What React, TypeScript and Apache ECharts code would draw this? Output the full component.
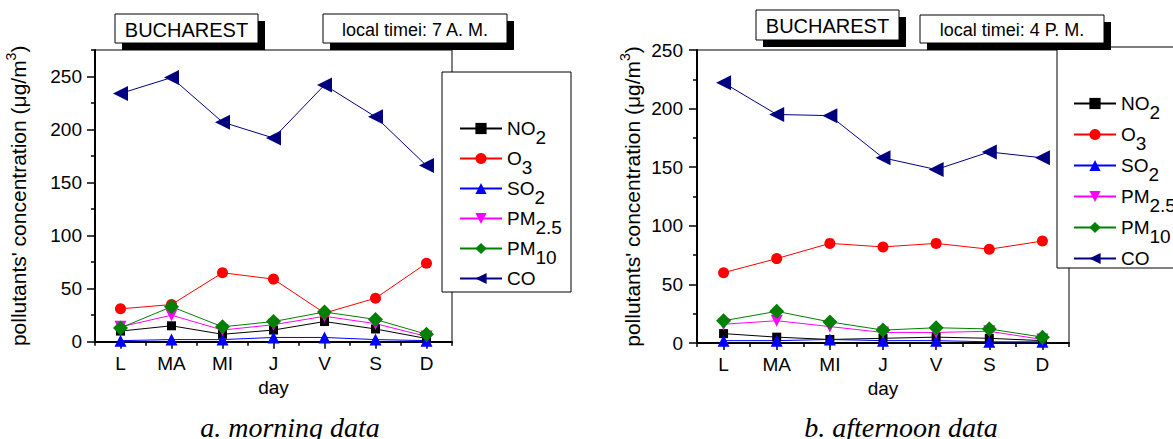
import React, { useEffect, useRef } from 'react';
import * as echarts from 'echarts';

const days = ['L', 'MA', 'MI', 'J', 'V', 'S', 'D'];
const pollutants = ['NO2', 'O3', 'SO2', 'PM2.5', 'PM10', 'CO'];

const morningNO2 = [10, 15, 7, 11, 19, 12, 3];
const morningO3 = [31, 35, 65, 59, 27, 41, 74];
const morningSO2 = [1, 2, 2, 4, 4, 2, 1];
const morningPM25 = [14, 25, 11, 16, 24, 17, 5];
const morningPM10 = [13, 33, 14, 19, 28, 21, 7];
const morningCO = [234, 249, 207, 192, 242, 212, 166];

const afternoonNO2 = [8, 5, 3, 4, 5, 4, 2];
const afternoonO3 = [60, 72, 85, 82, 85, 80, 87];
const afternoonSO2 = [2, 2, 3, 2, 2, 1, 1];
const afternoonPM25 = [16, 19, 14, 9, 9, 10, 3];
const afternoonPM10 = [19, 27, 18, 11, 13, 12, 5];
const afternoonCO = [222, 195, 194, 158, 148, 163, 158];

const morningMajorTicks = [0, 50, 100, 150, 200, 250];
const morningMinorTicks = [25, 75, 125, 175, 225, 275];

const SANS = 'Arial, "Liberation Sans", sans-serif';
const SERIF = '"Times New Roman", "Liberation Serif", serif';

const styles: Record<string, any> = {
  'NO2': { color: '#000000', symbol: 'rect', size: 9, rotate: 0 },
  'O3': { color: '#ff0000', symbol: 'circle', size: 11, rotate: 0 },
  'SO2': { color: '#0000ff', symbol: 'triangle', size: 12, rotate: 0 },
  'PM2.5': { color: '#ff00ff', symbol: 'triangle', size: 12, rotate: 180 },
  'PM10': { color: '#008000', symbol: 'diamond', size: 15, rotate: 0 },
  'CO': { color: '#000080', symbol: 'triangle', size: 15, rotate: 90 },
};

const legendNames: Record<string, string> = {
  'NO2': '{a|NO}{b|2}',
  'O3': '{a|O}{b|3}',
  'SO2': '{a|SO}{b|2}',
  'PM2.5': '{a|PM}{b|2.5}',
  'PM10': '{a|PM}{b|10}',
  'CO': '{a|CO}{b| }',
};

function makeSeries(dataSets: number[][], xIdx: number, yIdx: number) {
  return pollutants.map((p, i) => {
    const s = styles[p];
    return {
      name: p,
      type: 'line',
      xAxisIndex: xIdx,
      yAxisIndex: yIdx,
      data: dataSets[i],
      symbol: s.symbol,
      symbolSize: s.size,
      symbolRotate: s.rotate,
      showAllSymbol: true,
      itemStyle: { color: s.color },
      lineStyle: { color: s.color, width: 1 },
      emphasis: { disabled: true },
    };
  });
}

function titleBox(x: number, y: number, w: number, h: number, text: string, fs: number) {
  return [
    { type: 'rect', z: 20, shape: { x: x + 7, y: y + 7, width: w, height: h }, style: { fill: '#000' } },
    { type: 'rect', z: 21, shape: { x, y, width: w, height: h }, style: { fill: '#fff', stroke: '#000', lineWidth: 1 } },
    {
      type: 'text', z: 22, x: x + w / 2, y: y + h / 2 + 1,
      style: { text, fontSize: fs, fontFamily: SANS, fill: '#000', align: 'center', verticalAlign: 'middle' },
    },
  ];
}

const legendRich = {
  a: { fontSize: 19, lineHeight: 22, fontFamily: SANS, color: '#000' },
  b: { fontSize: 19, lineHeight: 22, padding: [18, 0, 0, 0], fontFamily: SANS, color: '#000' },
};

const yNameStyle = {
  fontSize: 21,
  fontFamily: SANS,
  color: '#000',
  lineHeight: 24,
  rich: {
    t: { fontSize: 21, lineHeight: 24, fontFamily: SANS, color: '#000' },
    sup: { fontSize: 14, lineHeight: 24, padding: [0, 0, 14, 0], fontFamily: SANS, color: '#000' },
  },
};

export default function App() {
  const ref = useRef<HTMLDivElement>(null);
  useEffect(() => {
    if (!ref.current) return;
    const chart = echarts.init(ref.current, undefined, { renderer: 'svg' });
    const axisLine = { show: true, lineStyle: { color: '#000', width: 2 } };
    const axisLabel = { color: '#000', fontSize: 19, fontFamily: SANS };
    const mainX = (gridIndex: number, nameGap: number) => ({
      type: 'category',
      gridIndex,
      data: days,
      boundaryGap: true,
      position: 'bottom',
      axisLine,
      axisTick: { show: true, alignWithLabel: true, length: 7, lineStyle: { color: '#000', width: 1.5 } },
      axisLabel: { ...axisLabel, margin: 12 },
      splitLine: { show: false },
      name: 'day',
      nameLocation: 'middle',
      nameGap,
      nameTextStyle: { fontSize: 19, fontFamily: SANS, color: '#000' },
    });
    const minorX = (gridIndex: number) => ({
      type: 'category',
      gridIndex,
      data: days,
      boundaryGap: true,
      position: 'bottom',
      axisLine: { show: false },
      axisTick: { show: true, length: 4, lineStyle: { color: '#000', width: 1.5 } },
      axisLabel: { show: false },
      splitLine: { show: false },
    });
    const option: any = {
      animation: false,
      grid: [
        { left: 95, top: 50, width: 357, height: 291.7, show: true, borderColor: '#000', borderWidth: 1, backgroundColor: 'transparent' },
        { left: 697, top: 50, width: 372, height: 293, show: true, borderColor: '#000', borderWidth: 1, backgroundColor: 'transparent' },
      ],
      xAxis: [mainX(0, 28), minorX(0), mainX(1, 34), minorX(1)],
      yAxis: [
        {
          type: 'value', gridIndex: 0, min: 0, max: 275, position: 'left',
          axisLine,
          axisTick: { show: true, length: 8, customValues: morningMajorTicks, lineStyle: { color: '#000', width: 1.5 } },
          axisLabel: { ...axisLabel, margin: 13, customValues: morningMajorTicks },
          splitLine: { show: false },
          name: "{t|pollutants' concentration (μg/m}{sup|3}{t|)}",
          nameLocation: 'middle',
          nameGap: 65,
          nameTextStyle: yNameStyle,
        },
        {
          type: 'value', gridIndex: 0, min: 0, max: 275, position: 'left',
          axisLine: { show: false },
          axisTick: { show: true, length: 4, customValues: morningMinorTicks, lineStyle: { color: '#000', width: 1.5 } },
          axisLabel: { show: false },
          splitLine: { show: false },
        },
        {
          type: 'value', gridIndex: 1, min: 0, max: 250, interval: 50, position: 'left',
          axisLine,
          axisTick: { show: true, length: 8, lineStyle: { color: '#000', width: 1.5 } },
          minorTick: { show: true, splitNumber: 2, length: 4, lineStyle: { color: '#000', width: 1.5 } },
          axisLabel: { ...axisLabel, margin: 14 },
          splitLine: { show: false },
          minorSplitLine: { show: false },
          name: "{t|pollutants' concentration (μg/m}{sup|3}{t|)}",
          nameLocation: 'middle',
          nameGap: 53,
          nameTextStyle: yNameStyle,
        },
      ],
      legend: [
        {
          orient: 'vertical', left: 459, top: 110, padding: 0, itemWidth: 42, itemHeight: 14, itemGap: -7,
          data: pollutants, formatter: (n: string) => legendNames[n], z: 10,
          textStyle: { fontSize: 19, fontFamily: SANS, color: '#000', rich: legendRich },
          selectedMode: false,
        },
        {
          orient: 'vertical', left: 1073, top: 85, padding: 0, itemWidth: 42, itemHeight: 14, itemGap: -6,
          data: pollutants, formatter: (n: string) => legendNames[n], z: 10,
          textStyle: { fontSize: 19, fontFamily: SANS, color: '#000', rich: legendRich },
          selectedMode: false,
        },
      ],
      graphic: [
        { type: 'rect', z: 5, shape: { x: 442, y: 72, width: 129, height: 220 }, style: { fill: '#fff', stroke: '#000', lineWidth: 1 } },
        { type: 'rect', z: 5, shape: { x: 1057, y: 47, width: 130, height: 221 }, style: { fill: '#fff', stroke: '#000', lineWidth: 1 } },
        ...titleBox(115, 14, 143, 29, 'BUCHAREST', 20),
        ...titleBox(323, 14, 184, 29, 'local timei: 7 A. M.', 18),
        ...titleBox(756, 10, 143, 30, 'BUCHAREST', 20),
        ...titleBox(920, 15, 184, 28, 'local timei: 4 P. M.', 18),
        {
          type: 'text', z: 22, x: 290, y: 427,
          style: { text: 'a. morning data', fontSize: 28, fontStyle: 'italic', fontFamily: SERIF, fill: '#000', align: 'center', verticalAlign: 'middle' },
        },
        {
          type: 'text', z: 22, x: 901, y: 427,
          style: { text: 'b. afternoon data', fontSize: 28, fontStyle: 'italic', fontFamily: SERIF, fill: '#000', align: 'center', verticalAlign: 'middle' },
        },
      ],
      series: [
        ...makeSeries([morningNO2, morningO3, morningSO2, morningPM25, morningPM10, morningCO], 0, 0),
        ...makeSeries([afternoonNO2, afternoonO3, afternoonSO2, afternoonPM25, afternoonPM10, afternoonCO], 2, 2),
      ],
    };
    chart.setOption(option);
    return () => chart.dispose();
  }, []);
  return (
    <div
      ref={ref}
      style={{ position: 'absolute', left: 0, top: 0, width: 1173, height: 439, background: '#fff' }}
    />
  );
}
